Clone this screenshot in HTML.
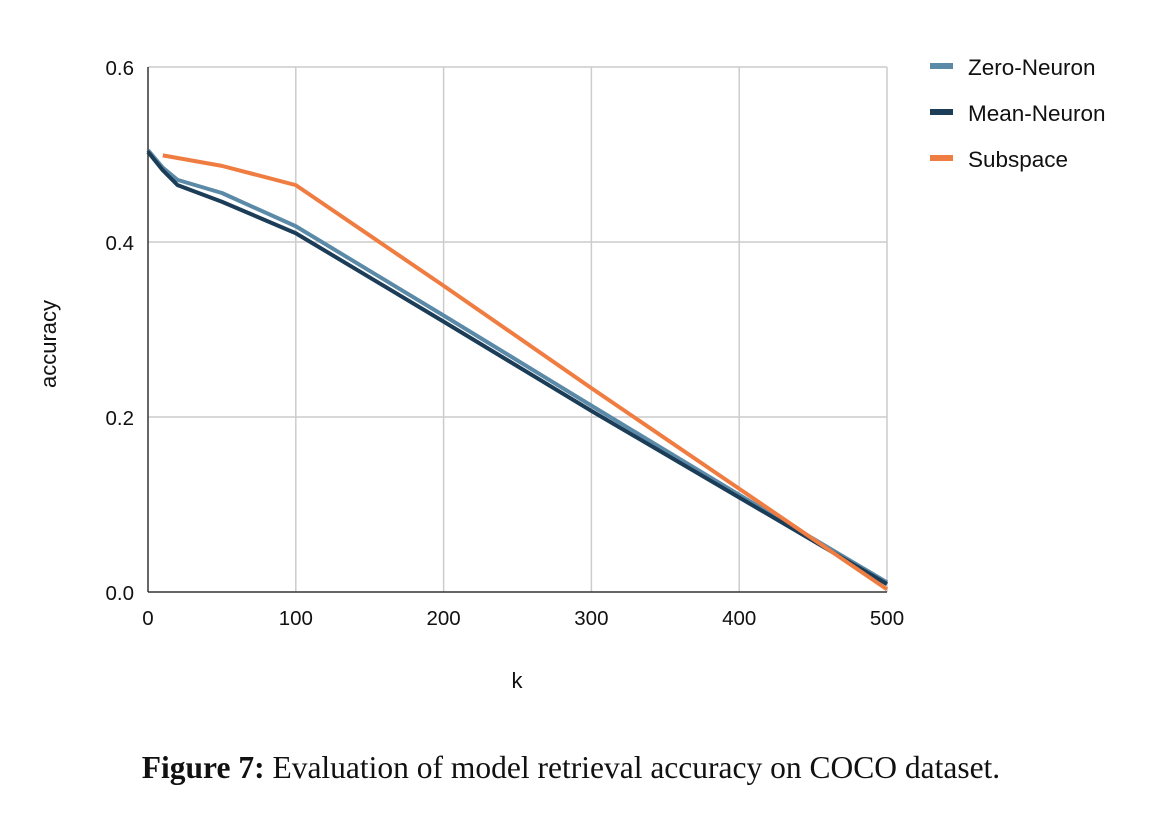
<!DOCTYPE html>
<html><head><meta charset="utf-8"><style>
body{margin:0;background:#fff;width:1176px;height:814px;overflow:hidden}
svg text{font-family:"Liberation Sans",sans-serif;fill:#111}
</style></head><body>
<svg id="chart" width="1176" height="814" xmlns="http://www.w3.org/2000/svg">
<g id="grid"></g><g id="series"></g><g id="axes"></g>
<g>
 <line x1="930" y1="66" x2="953" y2="66" stroke="#5b8aa8" stroke-width="6"/>
 <text x="968" y="75" font-size="22.5">Zero-Neuron</text>
 <line x1="930" y1="112" x2="953" y2="112" stroke="#1c3d58" stroke-width="6"/>
 <text x="968" y="121" font-size="22.5">Mean-Neuron</text>
 <line x1="930" y1="158" x2="953" y2="158" stroke="#ef7d42" stroke-width="6"/>
 <text x="968" y="167" font-size="22.5">Subspace</text>
</g>
<text x="517" y="688" font-size="22" text-anchor="middle">k</text>
<text x="56" y="344" font-size="22" text-anchor="middle" transform="rotate(-90 56 344)">accuracy</text>
<text x="571" y="778" font-size="31.5" text-anchor="middle" style="font-family:'Liberation Serif',serif"><tspan font-weight="bold">Figure 7:</tspan> Evaluation of model retrieval accuracy on COCO dataset.</text>
</svg>
<script>
const xTicks=[0,100,200,300,400,500];
const yTicks=[0.0,0.2,0.4,0.6];
const zeroK=[0,10,20,50,100,200,300,400,500];
const zeroV=[0.505,0.485,0.471,0.456,0.418,0.316,0.213,0.111,0.011];
const meanK=[0,10,20,50,100,200,300,400,500];
const meanV=[0.503,0.482,0.465,0.446,0.410,0.309,0.207,0.108,0.009];
const subK=[10,50,100,200,300,400,500];
const subV=[0.499,0.487,0.465,0.350,0.233,0.118,0.003];
const X0=148,X1=887,Y0=592,Y1=67;
const xs=v=>X0+(v-0)/500*(X1-X0);
const ys=v=>Y0-(v/0.6)*(Y0-Y1);
const NS="http://www.w3.org/2000/svg";
const grid=document.getElementById('grid'),axes=document.getElementById('axes'),ser=document.getElementById('series');
function mk(tag,attrs,parent){const e=document.createElementNS(NS,tag);for(const k in attrs)e.setAttribute(k,attrs[k]);parent.appendChild(e);return e;}
xTicks.forEach(t=>{
 if(t>0){const l=mk('line',{x1:xs(t),x2:xs(t),y1:Y1,y2:Y0,stroke:'#cccccc','stroke-width':1.5},grid);
 
 }
 const tx=mk('text',{x:xs(t),y:Y0+33,'font-size':20.5,'text-anchor':'middle'},axes);tx.textContent=t;
 
 
});
yTicks.forEach(t=>{
 if(t>0){const l=mk('line',{x1:X0,x2:X1,y1:ys(t),y2:ys(t),stroke:'#cccccc','stroke-width':1.5},grid);
 
 }
 const tx=mk('text',{x:X0-14,y:ys(t)+8,'font-size':20.5,'text-anchor':'end'},axes);tx.textContent=t.toFixed(1);
 
 
});
const ax=mk('line',{x1:X0,x2:X0,y1:Y1,y2:Y0,stroke:'#333','stroke-width':1.5},axes);


const bx=mk('line',{x1:X0,x2:X1,y1:Y0,y2:Y0,stroke:'#333','stroke-width':1.5},axes);


function line(K,V,color,name){
 const p=mk('polyline',{points:K.map((k,i)=>xs(k)+','+ys(V[i])).join(' '),fill:'none',stroke:color,'stroke-width':4,'stroke-linejoin':'round'},ser);
 
 
}
line(zeroK,zeroV,'#5b8aa8','zero-neuron-line');
line(meanK,meanV,'#1c3d58','mean-neuron-line');
line(subK,subV,'#ef7d42','subspace-line');
</script>
</body></html>
